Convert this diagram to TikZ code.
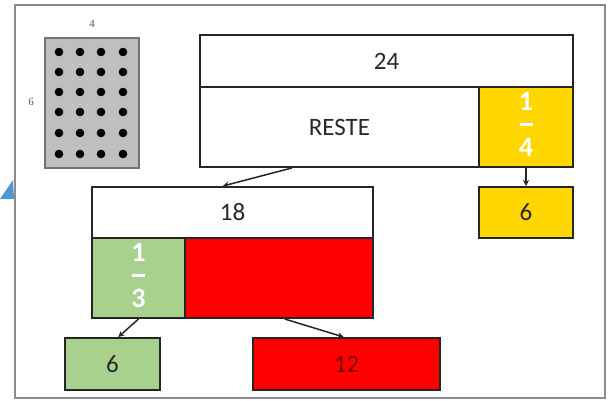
\documentclass[tikz,border=0pt]{standalone}
\usepackage{fontspec}
\setmainfont{Carlito}
\newfontfamily\serifsmall{Liberation Serif}
\usetikzlibrary{calc,arrows.meta}
\definecolor{yel}{RGB}{255,214,0}
\definecolor{grn}{RGB}{169,209,142}
\definecolor{rd}{RGB}{255,0,0}
\definecolor{dkred}{RGB}{120,0,0}
\definecolor{txt}{RGB}{40,40,40}
\definecolor{framegray}{RGB}{140,140,140}
\definecolor{bluetri}{RGB}{80,150,210}
\tikzset{
  cell/.style={draw=black!85, line width=2pt, inner sep=0pt, font=\fontsize{25}{28}\selectfont, text=txt},
  fracnum/.style={text=white, font=\bfseries\fontsize{28}{30}\selectfont},
  conn/.style={draw=black!85, line width=1.5pt, -{Stealth[length=6pt,width=6pt]}},
  smalllab/.style={font=\serifsmall\fontsize{11}{12}\selectfont, text=black!65}
}
\newcommand{\fracstack}[2]{\begin{tabular}{@{}c@{}}#1\\[-7pt]\rule[7.5pt]{13pt}{3pt}\\[-7pt]#2\end{tabular}}
\begin{document}
\begin{tikzpicture}[x=1pt,y=-1pt]
\useasboundingbox (0,0) rectangle (613,400);
\fill[white] (0,0) rectangle (613,400);
% blue partial shape at the left edge
\fill[bluetri] (0,199) -- (13,180) -- (14,199) -- cycle;
% outer frame
\draw[framegray, line width=2pt] (15,5) rectangle (605,398);
% dot grid
\draw[fill=black!25, draw=black!55, line width=2pt] (45,38) rectangle (139,168);
\foreach \cx in {59,80,101,123}{
  \foreach \cy in {52,72,92,112,133,154}{
    \fill[black] (\cx,\cy) circle (4.3pt);
  }
}
\node[smalllab] (lab4) at (92,24) {4};
\node[smalllab] (lab6) at (31,102) {6};
% top bar
\node[cell, fill=white, minimum width=373pt, minimum height=52pt] (tot) at (386.5,61) {24};
\node[cell, fill=white, minimum width=279pt, minimum height=80pt] (reste) at (339.5,127) {RESTE};
\node[cell, fill=yel, minimum width=94pt, minimum height=80pt] (quart) at (526,127) {};
\node[fracnum] (quartfrac) at (526,127) {\fracstack{1}{4}};
\node[cell, fill=yel, minimum width=94pt, minimum height=51pt] (six1) at (526,212.5) {6};
% 18 bar
\node[cell, fill=white, minimum width=281pt, minimum height=51pt] (dixhuit) at (232.5,212.5) {18};
\node[cell, fill=grn, minimum width=93pt, minimum height=80pt] (tiers) at (138.5,278) {};
\node[fracnum] (tiersfrac) at (138.5,278) {\fracstack{1}{3}};
\node[cell, fill=rd, minimum width=188pt, minimum height=80pt] (reste2) at (279,278) {};
% results
\node[cell, fill=grn, minimum width=95pt, minimum height=52pt] (six2) at (112.5,364) {6};
\node[cell, fill=rd, minimum width=187pt, minimum height=52pt, text=dkred] (douze) at (346.5,364) {12};
% connectors
\draw[conn] ($(reste.south west)!0.33!(reste.south east)$) -- ($(dixhuit.north west)!0.466!(dixhuit.north east)$);
\draw[conn] (quart.south) -- (six1.north);
\draw[conn] (tiers.south) -- ($(six2.north west)!0.56!(six2.north east)$);
\draw[conn] ($(reste2.south west)!0.53!(reste2.south east)$) -- ($(douze.north west)!0.485!(douze.north east)$);
\end{tikzpicture}
\end{document}
